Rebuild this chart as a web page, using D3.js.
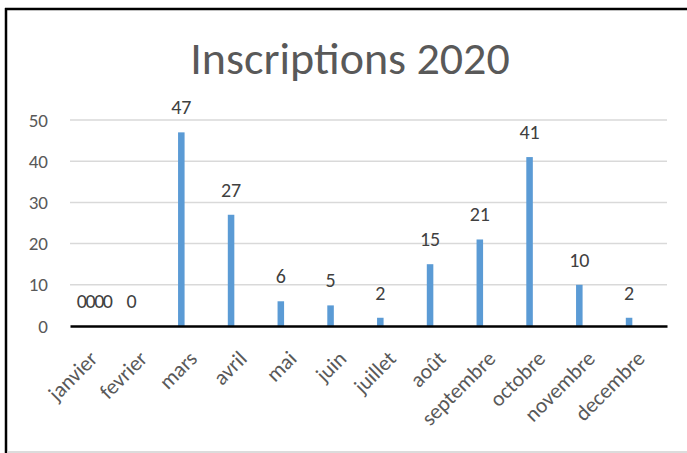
<!DOCTYPE html>
<meta charset="utf-8">
<script src="https://d3js.org/d3.v7.min.js"></script>
<style>
  body { margin: 0; background: #fff; }
  text { font-family: Carlito, Calibri, Lato, sans-serif; }
</style>
<body>
</body>
<script>

  var months = ["janvier", "fevrier", "mars", "avril", "mai", "juin",
                "juillet", "août", "septembre", "octobre", "novembre", "decembre"];
  var series = ["Série 1", "Série 2", "Série 3", "Série 4"];
  // only the first series has real values, the others only have a 0 in janvier
  var serie1 = [0, 0, 47, 27, 6, 5, 2, 15, 21, 41, 10, 2];
  var serie2 = [0, null, null, null, null, null, null, null, null, null, null, null];
  var serie3 = [0, null, null, null, null, null, null, null, null, null, null, null];
  var serie4 = [0, null, null, null, null, null, null, null, null, null, null, null];
  var yTicks = [0, 10, 20, 30, 40, 50];
  var title = "Inscriptions 2020";

  var allSeries = [serie1, serie2, serie3, serie4];

  var W = 687, H = 453;
  var plotLeft = 70, plotRight = 667, plotTop = 120, plotBottom = 326;

  var svg = d3.select("body").append("svg")
      .attr("width", W)
      .attr("height", H);

  // frame of the screenshot
  svg.append("line").attr("x1", 5).attr("x2", 687).attr("y1", 9).attr("y2", 9)
    .attr("stroke", "#000").attr("stroke-width", 2.5);
  svg.append("line").attr("x1", 6).attr("x2", 6).attr("y1", 8).attr("y2", 453)
    .attr("stroke", "#000").attr("stroke-width", 2.5);
  svg.append("line").attr("x1", 7).attr("x2", 687).attr("y1", 452).attr("y2", 452)
    .attr("stroke", "#d0d0d0").attr("stroke-width", 1.5);

  var x = d3.scaleBand()
    .domain(months)
    .range([plotLeft, plotRight])
    .paddingInner(0.3)
    .paddingOuter(0.15);

  var x1 = d3.scaleBand()
    .domain(series)
    .range([0, x.bandwidth()])
    .paddingInner(0.25)
    .paddingOuter(0.125);

  var y = d3.scaleLinear()
    .domain([0, 50])
    .range([plotBottom, plotTop]);

  // title
  svg.append("text")
    .attr("x", 350)
    .attr("y", 74)
    .attr("text-anchor", "middle")
    .attr("fill", "#595959")
    .style("font-size", "46px")
    .text(title);

  // gridlines
  svg.append("g")
    .selectAll("line")
    .data(yTicks.filter(function(d) { return d > 0; }))
    .enter().append("line")
    .attr("x1", plotLeft).attr("x2", plotRight)
    .attr("y1", function(d) { return y(d); })
    .attr("y2", function(d) { return y(d); })
    .attr("stroke", "#d9d9d9")
    .attr("stroke-width", 1.5);

  // y axis labels
  var yAxis = d3.axisLeft(y).tickValues(yTicks).tickSize(0).tickPadding(0);
  var gy = svg.append("g")
    .attr("transform", "translate(48,0)")
    .call(yAxis);
  gy.select(".domain").remove();
  gy.selectAll("text")
    .attr("fill", "#595959")
    .style("font-size", "19px");

  // bars
  var rows = [];
  allSeries.forEach(function(vals, s) {
    vals.forEach(function(v, i) {
      if (v !== null) rows.push({ month: months[i], serie: series[s], value: v });
    });
  });

  svg.append("g")
    .selectAll("rect")
    .data(rows.filter(function(d) { return d.value > 0; }))
    .enter().append("rect")
    .attr("x", function(d) { return x(d.month) + x1(d.serie); })
    .attr("y", function(d) { return y(d.value); })
    .attr("width", x1.bandwidth())
    .attr("height", function(d) { return y(0) - y(d.value); })
    .attr("fill", "#5b9bd5");

  // data labels
  svg.append("g")
    .selectAll("text")
    .data(rows)
    .enter().append("text")
    .attr("x", function(d) { return x(d.month) + x1(d.serie) + x1.bandwidth() / 2; })
    .attr("y", function(d) { return y(d.value) - 18; })
    .attr("text-anchor", "middle")
    .attr("fill", "#404040")
    .style("font-size", "20px")
    .text(function(d) { return d.value; });

  // x axis
  var xAxis = d3.axisBottom(x).tickSize(0).tickPadding(0);
  var gx = svg.append("g")
    .attr("transform", "translate(0," + plotBottom + ")")
    .call(xAxis);
  gx.select(".domain")
    .attr("stroke", "#000")
    .attr("stroke-width", 2.5);
  gx.selectAll("text")
    .attr("fill", "#595959")
    .style("font-size", "21.5px")
    .attr("text-anchor", "end")
    .attr("dy", "0")
    .attr("transform", "translate(4,34) rotate(-45)");

</script>
